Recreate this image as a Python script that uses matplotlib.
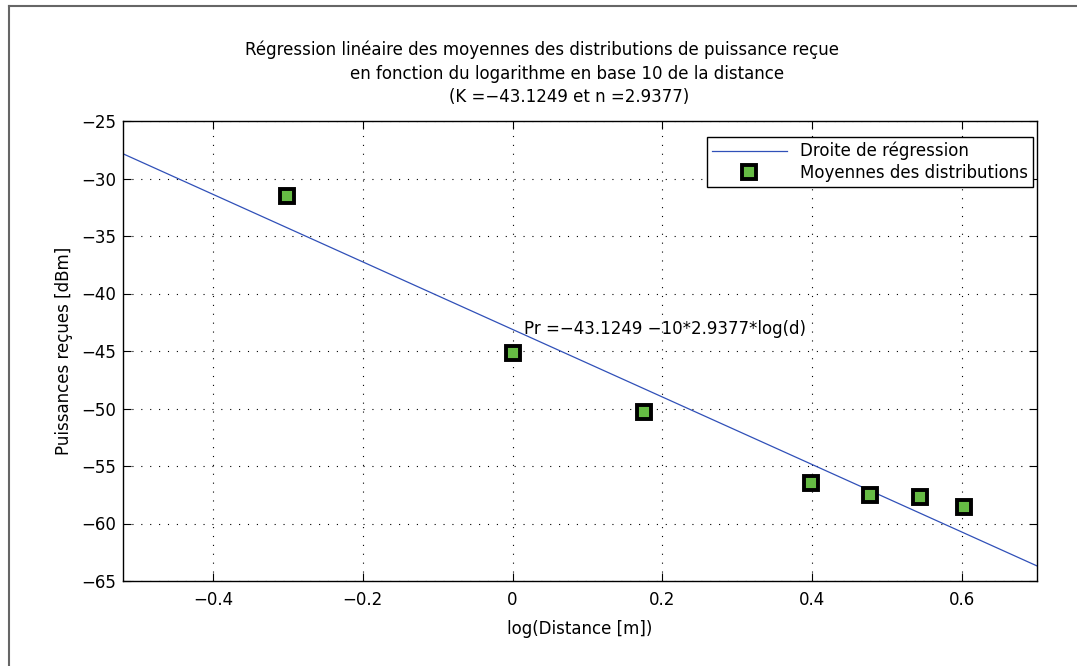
import numpy as np
import matplotlib
matplotlib.use('Agg')
from matplotlib import pyplot as plt
from matplotlib.lines import Line2D

# donnees
distances = [0.5, 1.0, 1.5, 2.5, 3.0, 3.5, 4.0]
log_dist = np.log10(distances)
moyennes = [-31.5, -45.2, -50.3, -56.5, -57.5, -57.7, -58.6]
K = -43.1249
n = 2.9377
xlims = [-0.52, 0.7]
xticks = [-0.4, -0.2, 0, 0.2, 0.4, 0.6]
yticks = [-65, -60, -55, -50, -45, -40, -35, -30, -25]

plt.rcParams['font.family'] = 'DejaVu Sans'
plt.rcParams['axes.unicode_minus'] = True
fs = 12

W, H = 1077, 666
fig = plt.figure(figsize=(W / 100, H / 100), dpi=100)
ax = fig.add_axes([123 / W, 1 - 581 / H, 914 / W, 460 / H])

xr = np.array(xlims)
ax.plot(xr, K - 10 * n * xr, color='#3050b8', lw=0.9, label='Droite de régression')
ax.plot(log_dist, moyennes, 's', ms=10, mfc='#66bb44', mec='black', mew=2.8,
        ls='none', label='Moyennes des distributions')

ax.text(0.015, K, 'Pr =\u221243.1249 \u221210*2.9377*log(d)', fontsize=fs, va='center', ha='left')

ax.set_xlim(xlims)
ax.set_ylim(-65, -25)
ax.set_xticks(xticks)
ax.set_xticklabels(['\u22120.4', '\u22120.2', '0', '0.2', '0.4', '0.6'])
ax.set_yticks(yticks)
ax.set_yticklabels(['\u2212%d' % abs(v) for v in yticks])
ax.tick_params(direction='in', top=True, right=True, length=6, width=0.8, labelsize=fs)
ax.tick_params(axis='x', pad=7)
ax.tick_params(axis='y', pad=5)
ax.grid(True, color='black', linestyle=(0, (1, 7)), linewidth=0.8)
for s in ax.spines.values():
    s.set_linewidth(1.0)

ax.set_xlabel('log(Distance [m])', fontsize=fs, labelpad=8)
ax.set_ylabel('Puissances reçues [dBm]', fontsize=fs, labelpad=6)

# titre sur trois lignes (premiere ligne decalee comme l'original)
fig.text(542 / W, 1 - 50 / H, 'Régression linéaire des moyennes des distributions de puissance reçue',
         fontsize=fs, ha='center', va='center')
fig.text(567 / W, 1 - 74 / H, 'en fonction du logarithme en base 10 de la distance',
         fontsize=fs, ha='center', va='center')
fig.text(569 / W, 1 - 97 / H, '(K =\u221243.1249 et n =2.9377)',
         fontsize=fs, ha='center', va='center')

leg = ax.legend(loc='upper right', bbox_to_anchor=(1 - 4 / 914, 1 - 16 / 460), borderaxespad=0,
                fontsize=fs, fancybox=False, framealpha=1, edgecolor='black',
                handlelength=4.5, borderpad=0.3, labelspacing=0.2)
leg.get_frame().set_linewidth(1.0)

# cadre gris (haut et gauche)
fig.add_artist(Line2D([8.5 / W, 1.0], [1 - 5.5 / H, 1 - 5.5 / H], color='#666666', lw=1.5,
                      transform=fig.transFigure))
fig.add_artist(Line2D([8.5 / W, 8.5 / W], [0, 1 - 5.5 / H], color='#666666', lw=1.5,
                      transform=fig.transFigure))

fig.savefig('out.png', dpi=100)
